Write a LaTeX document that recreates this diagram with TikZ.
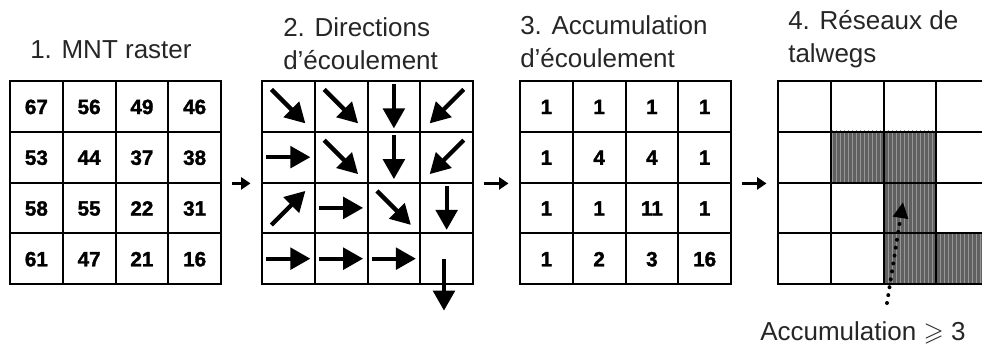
\documentclass[tikz,border=0pt]{standalone}
\usepackage{amssymb}
\usepackage{fontspec}
\setmainfont{Liberation Sans}
\newfontface\numfont{Liberation Sans Bold}[RawFeature={embolden=1.6}]
\usetikzlibrary{arrows.meta,patterns,backgrounds}

\tikzset{
  cell/.style={draw, line width=1.4pt, minimum width=39.5pt, minimum height=38pt, inner sep=0pt,
    text height=11.5pt, text depth=0pt, font=\numfont\fontsize{15.5}{16}\selectfont},
  title/.style={anchor=base west, inner sep=0pt, align=left, text=black!85,
    font=\fontsize{19.5}{24.5}\selectfont},
  panelarrow/.style={line width=2.6pt, -{Triangle[length=7pt,width=9pt]}, shorten <=7.5pt, shorten >=8pt},
  flowarrow/.style={line width=3.2pt, -{Triangle[length=15pt,width=16pt]}},
  dotarrow/.style={line width=3pt, line cap=round, dash pattern=on 0pt off 6pt, -{Triangle[length=12pt,width=11pt]}},
  talfill/.style={fill={rgb, 255:red, 96; green, 96; blue, 96 }},
  talhatch/.style={pattern=vertical lines, pattern color={rgb, 255:red, 150; green, 150; blue, 150 }}
}

\begin{document}
\begin{tikzpicture}[x=0.75pt,y=0.75pt,yscale=-1,xscale=1]
\useasboundingbox (0,0) rectangle (982,347);

% Text Node
\node[title] (t1) at (30,58) {1. MNT raster};
% Text Node
\node[title] (t2) at (283,69) {2. Directions\\d’écoulement};
% Text Node
\node[title] (t3) at (520,67) {3. Accumulation\\d’écoulement};
% Text Node
\node[title] (t4) at (788,62) {4. Réseaux de\\talwegs};

%Shape: Grid 1 (MNT)
\foreach \r/\vals in {1/{67,56,49,46},2/{53,44,37,38},3/{58,55,22,31},4/{61,47,21,16}}
  \foreach \v [count=\c] in \vals
    \node[cell] (mnt-\r-\c) at (36.4+52.75*\c-52.75,106.4+50.75*\r-50.75) {\v};

%Shape: Grid 2 (directions)
\foreach \r in {1,...,4}
  \foreach \c in {1,...,4}
    \node[cell] (dir-\r-\c) at (288.4+52.75*\c-52.75,106.4+50.75*\r-50.75) {};

%Shape: Grid 3 (accumulation)
\foreach \r/\vals in {1/{1,1,1,1},2/{1,4,4,1},3/{1,1,11,1},4/{1,2,3,16}}
  \foreach \v [count=\c] in \vals
    \node[cell] (acc-\r-\c) at (546.4+52.75*\c-52.75,106.4+50.75*\r-50.75) {\v};

%Shape: Grid 4 (talwegs)
\foreach \r in {1,...,4}
  \foreach \c in {1,...,4}
    \node[cell] (tal-\r-\c) at (804.4+52.75*\c-52.75,106.4+50.75*\r-50.75) {};

% cells with accumulation >= 3
\begin{pgfonlayer}{background}
  \fill[talfill] (tal-2-2.north west) rectangle (tal-2-3.south east);
  \fill[talfill] (tal-3-3.north west) rectangle (tal-3-3.south east);
  \fill[talfill] (tal-4-3.north west) rectangle (tal-4-4.south east);
  \fill[talhatch] (tal-2-2.north west) rectangle (tal-2-3.south east);
  \fill[talhatch] (tal-3-3.north west) rectangle (tal-3-3.south east);
  \fill[talhatch] (tal-4-3.north west) rectangle (tal-4-4.south east);
\end{pgfonlayer}

%Straight Lines: flow directions
\foreach \r/\c/\dx/\dy/\len in {1/1/1/1/17,1/2/1/1/17,1/3/0/1/22,1/4/-1/1/17,
    2/1/1/0/22,2/2/1/1/17,2/3/0/1/22,2/4/-1/1/17,
    3/1/1/-1/17,3/2/1/0/22,3/3/1/1/17,3/4/0/1/22,
    4/1/1/0/22,4/2/1/0/22,4/3/1/0/22}
  \draw[flowarrow] ([shift={(-\dx*\len,-\dy*\len)}]dir-\r-\c.center) -- ([shift={(\dx*\len,\dy*\len)}]dir-\r-\c.center);
% outlet
\draw[flowarrow] ([xshift=-2pt]dir-4-4.center) -- ++(0,52);

%Straight Lines: between panels
\draw[panelarrow] (mnt-2-4.south east) -- (dir-2-1.south west);
\draw[panelarrow] (dir-2-4.south east) -- (acc-2-1.south west);
\draw[panelarrow] (acc-2-4.south east) -- (tal-2-1.south west);

% Text Node
\node[title] (thr) at (760,340) {Accumulation $\geqslant$ 3};
\coordinate (tail) at (887,303);
\coordinate (tip) at (903,202);
\draw[dotarrow] (tail) -- (tip);

\end{tikzpicture}
\end{document}
